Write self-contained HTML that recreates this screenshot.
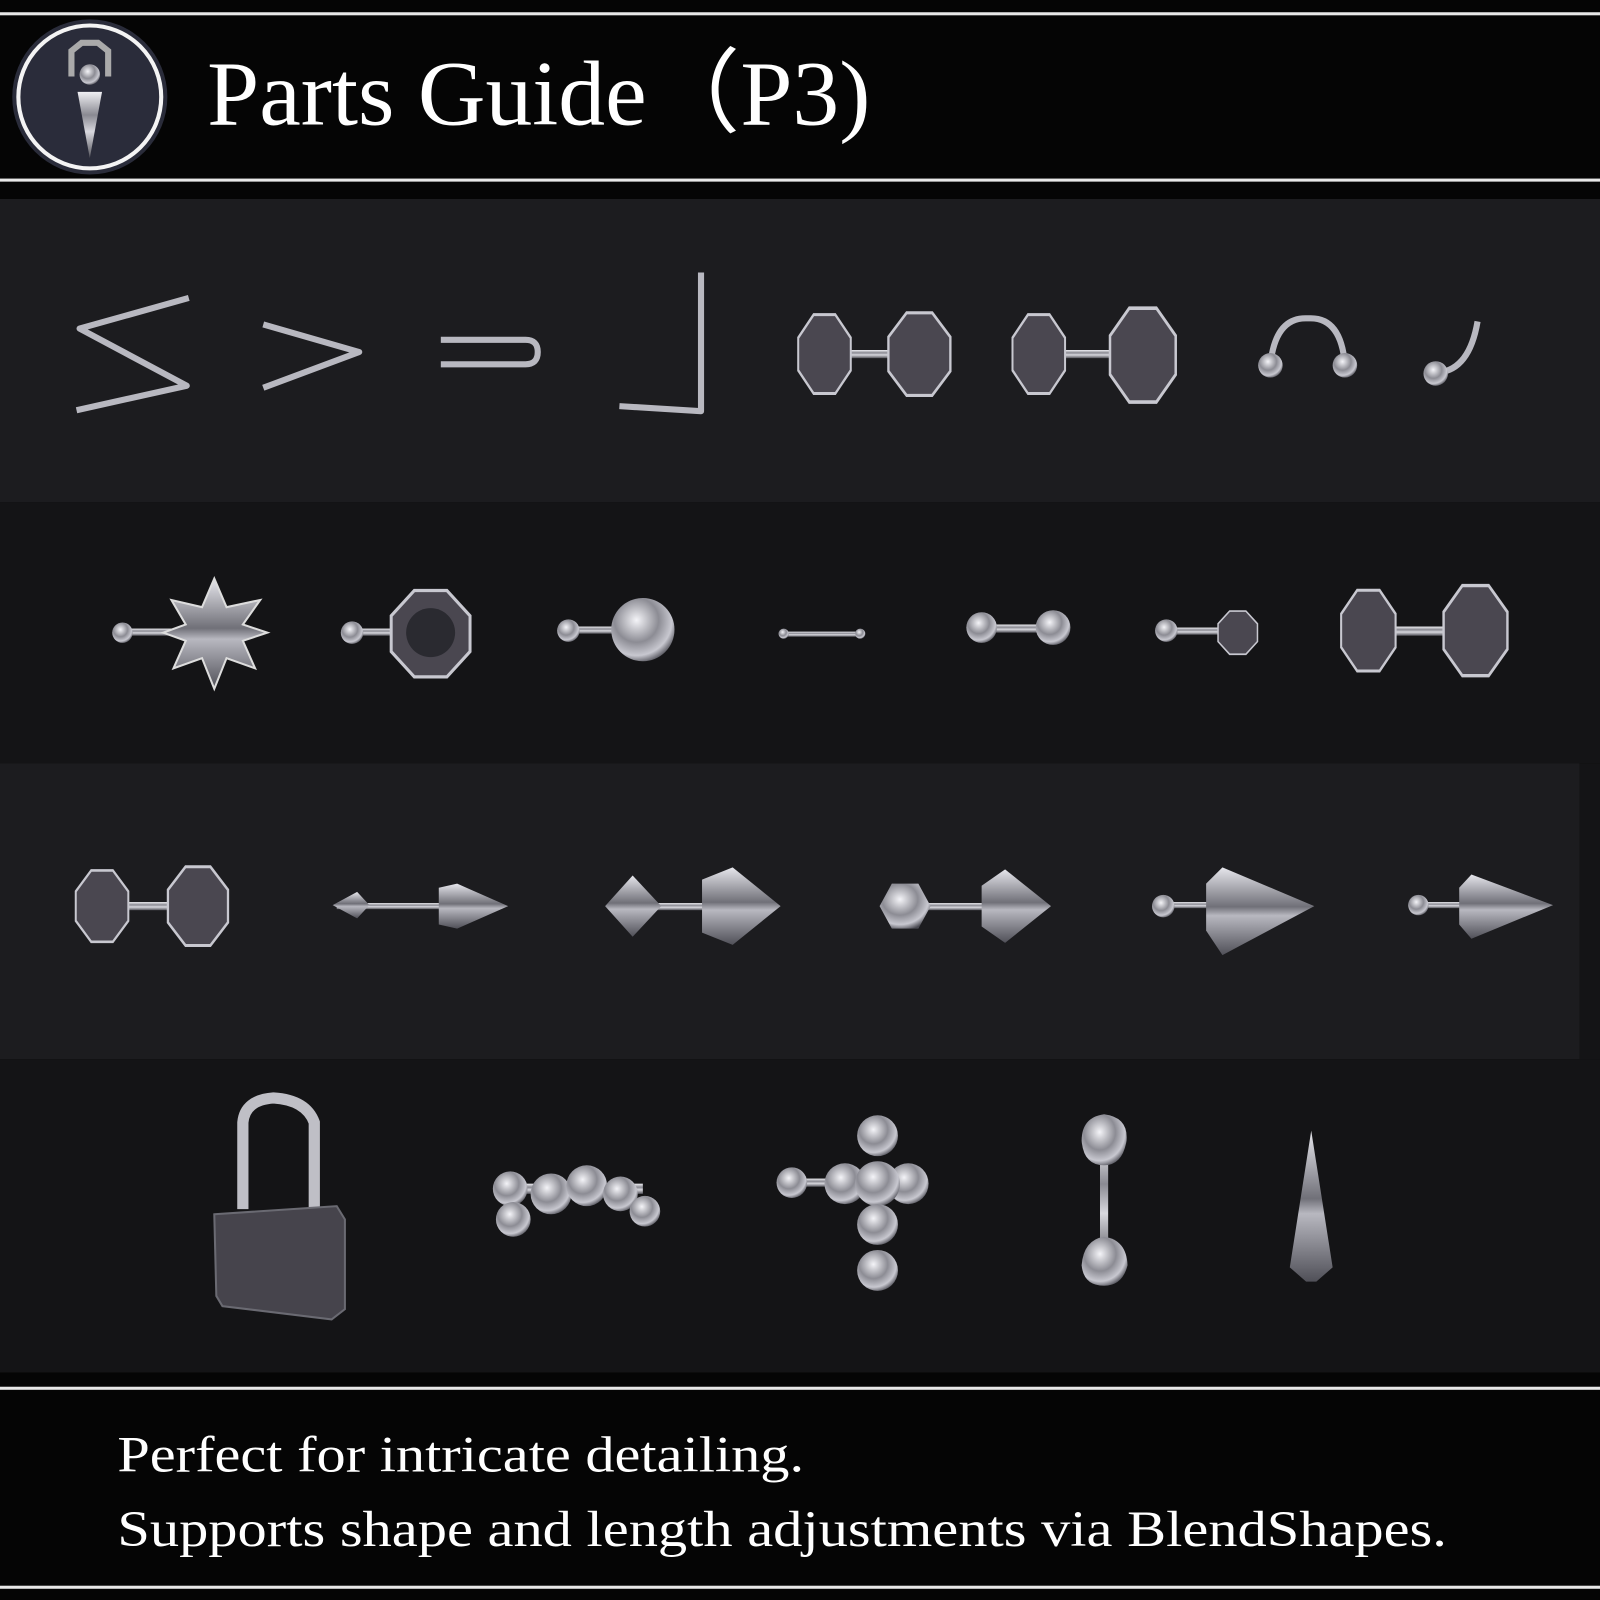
<!DOCTYPE html>
<html><head><meta charset="utf-8"><style>
html,body{margin:0;padding:0;background:#050505;}
svg{display:block;}
</style></head><body>
<svg width="1600" height="1600" viewBox="0 0 1568 1568" xmlns="http://www.w3.org/2000/svg">
<defs>
<linearGradient id="m" x1="0" y1="0" x2="0" y2="1">
<stop offset="0" stop-color="#f0f0f4"/><stop offset="0.35" stop-color="#8a8a92"/><stop offset="0.6" stop-color="#d8d8de"/><stop offset="1" stop-color="#55555c"/></linearGradient>
<radialGradient id="b" cx="0.4" cy="0.35" r="0.7">
<stop offset="0" stop-color="#f4f4f8"/><stop offset="0.5" stop-color="#8c8c94"/><stop offset="0.8" stop-color="#c8c8d0"/><stop offset="1" stop-color="#4a4a52"/></radialGradient>
<linearGradient id="c" x1="0" y1="0" x2="0" y2="1">
<stop offset="0" stop-color="#e6e6ec"/><stop offset="0.45" stop-color="#707078"/><stop offset="0.55" stop-color="#b8b8c0"/><stop offset="1" stop-color="#505058"/></linearGradient>
<symbol id="o" viewBox="-1 -1 2 2" preserveAspectRatio="none" overflow="visible"><polygon points="0.38,-0.92 0.92,-0.38 0.92,0.38 0.38,0.92 -0.38,0.92 -0.92,0.38 -0.92,-0.38 -0.38,-0.92" fill="#4a4750" stroke="#c8c8d0" stroke-width="0.07"/></symbol>
</defs>
<rect width="1568" height="1568" fill="#050505"/>
<rect x="0" y="12" width="1568" height="3" fill="#e8e8e8"/>
<rect x="0" y="175" width="1568" height="3" fill="#e8e8e8"/>
<circle cx="88" cy="95" r="76" fill="#2a2c3a"/>
<circle cx="88" cy="95" r="70" fill="none" stroke="#f4f4f4" stroke-width="4"/>
<path d="M70,75 V50 L80,42 H96 L106,50 V75" fill="none" stroke="#aaa" stroke-width="6"/>
<circle cx="88" cy="73" r="10" fill="url(#b)"/>
<polygon points="76,90 100,90 88,155" fill="url(#m)"/>
<text x="203" y="122" font-family="Liberation Serif, serif" font-size="90" fill="#fff" textLength="650" lengthAdjust="spacingAndGlyphs">Parts Guide（P3)</text>

<rect x="0" y="195" width="1568" height="297" fill="#1c1c1f"/>
<rect x="0" y="492" width="1568" height="256" fill="#141416"/>
<rect x="1548" y="748" width="20" height="290" fill="#141416"/>
<rect x="0" y="748" width="1548" height="290" fill="#1c1c1f"/>
<rect x="0" y="1038" width="1568" height="307" fill="#141416"/>

<g fill="none" stroke="#b8b8c0" stroke-width="6" stroke-linejoin="round">
<polyline points="185,292 78,322 183,378 75,402"/>
<polyline points="258,318 352,345 258,380"/>
<path d="M432,333 H515 Q527,333 527,345 Q527,357 515,357 H432"/>
<polyline points="687,267 687,403 607,398"/>
<path d="M1245,357 Q1250,310 1282,312 Q1314,310 1318,357"/>
<path d="M1410,365 Q1440,362 1448,315"/>
</g>
<rect x="820" y="343" width="70" height="8" fill="url(#m)"/>
<use href="#o" x="780" y="305" width="56" height="84"/>
<use href="#o" x="868" y="303" width="66" height="88"/>
<rect x="1030" y="343" width="80" height="8" fill="url(#m)"/>
<use href="#o" x="990" y="305" width="56" height="84"/>
<use href="#o" x="1085" y="298" width="70" height="100"/>
<circle cx="1245" cy="358" r="12" fill="url(#b)"/><circle cx="1318" cy="358" r="12" fill="url(#b)"/>
<circle cx="1407" cy="366" r="12" fill="url(#b)"/>

<rect x="115" y="616" width="90" height="7" fill="url(#m)"/>
<polygon points="210,567 222,595 255,588 238,612 262,620 238,628 250,655 222,645 210,675 198,645 170,655 182,628 160,620 182,612 168,588 198,595" fill="url(#c)" stroke="#ddd" stroke-width="2"/>
<circle cx="120" cy="620" r="10" fill="url(#b)"/>
<rect x="340" y="616" width="60" height="7" fill="url(#m)"/>
<circle cx="345" cy="620" r="11" fill="url(#b)"/>
<use href="#o" x="380" y="575" width="84" height="92"/>
<circle cx="422" cy="620" r="24" fill="#2a2a30"/>
<rect x="550" y="614" width="60" height="7" fill="url(#m)"/>
<circle cx="557" cy="618" r="11" fill="url(#b)"/>
<circle cx="630" cy="617" r="31" fill="url(#b)"/>
<rect x="765" y="619" width="80" height="5" fill="url(#m)"/>
<circle cx="768" cy="621" r="5" fill="url(#b)"/><circle cx="843" cy="621" r="5" fill="url(#b)"/>
<rect x="955" y="612" width="85" height="8" fill="url(#m)"/>
<circle cx="962" cy="615" r="15" fill="url(#b)"/><circle cx="1032" cy="615" r="17" fill="url(#b)"/>
<rect x="1135" y="615" width="75" height="7" fill="url(#m)"/>
<circle cx="1143" cy="618" r="11" fill="url(#b)"/>
<use href="#o" x="1192" y="597" width="42" height="46"/>
<rect x="1345" y="614" width="90" height="9" fill="url(#m)"/>
<use href="#o" x="1312" y="575" width="58" height="86"/>
<use href="#o" x="1412" y="570" width="68" height="96"/>

<rect x="110" y="884" width="80" height="8" fill="url(#m)"/>
<use href="#o" x="72" y="850" width="56" height="76"/>
<use href="#o" x="162" y="846" width="64" height="84"/>
<rect x="330" y="885" width="140" height="6" fill="url(#m)"/>
<polygon points="326,887 350,874 362,887 350,900" fill="url(#c)"/>
<polygon points="430,870 448,866 498,888 448,910 430,906" fill="url(#c)"/>
<rect x="630" y="885" width="70" height="7" fill="url(#m)"/>
<polygon points="593,888 620,858 648,888 620,918" fill="url(#c)"/>
<polygon points="688,862 718,850 765,888 718,926 688,914" fill="url(#c)"/>
<rect x="880" y="885" width="90" height="7" fill="url(#m)"/>
<polygon points="862,888 874,866 900,866 912,888 900,910 874,910" fill="url(#b)"/>
<polygon points="962,868 985,852 1030,888 985,924 962,908" fill="url(#c)"/>
<rect x="1135" y="884" width="60" height="6" fill="url(#m)"/>
<circle cx="1140" cy="888" r="11" fill="url(#b)"/>
<polygon points="1182,866 1198,850 1288,888 1198,936 1182,912" fill="url(#c)"/>
<rect x="1385" y="884" width="60" height="6" fill="url(#m)"/>
<circle cx="1390" cy="887" r="10" fill="url(#b)"/>
<polygon points="1430,870 1442,857 1522,887 1442,920 1430,906" fill="url(#c)"/>

<path d="M238,1185 V1100 Q240,1078 268,1076 Q300,1078 308,1100 V1185" fill="none" stroke="#bfbfc6" stroke-width="11"/>
<polygon points="210,1190 330,1182 338,1195 338,1283 325,1293 218,1280 212,1270" fill="#46444c" stroke="#6a6a72" stroke-width="2"/>
<rect x="500" y="1160" width="130" height="10" fill="url(#m)"/>
<circle cx="500" cy="1165" r="17" fill="url(#b)"/><circle cx="540" cy="1170" r="20" fill="url(#b)"/><circle cx="575" cy="1162" r="20" fill="url(#b)"/><circle cx="608" cy="1170" r="17" fill="url(#b)"/><circle cx="632" cy="1187" r="15" fill="url(#b)"/><circle cx="503" cy="1195" r="17" fill="url(#b)"/>
<rect x="775" y="1155" width="60" height="8" fill="url(#m)"/>
<circle cx="776" cy="1159" r="15" fill="url(#b)"/>
<circle cx="860" cy="1113" r="20" fill="url(#b)"/><circle cx="828" cy="1160" r="20" fill="url(#b)"/><circle cx="890" cy="1160" r="20" fill="url(#b)"/><circle cx="860" cy="1160" r="22" fill="url(#b)"/><circle cx="860" cy="1200" r="20" fill="url(#b)"/><circle cx="860" cy="1245" r="20" fill="url(#b)"/>
<rect x="1078" y="1120" width="8" height="115" fill="url(#m)"/>
<path d="M1082,1092 Q1106,1095 1104,1118 Q1100,1142 1082,1142 Q1062,1142 1060,1118 Q1060,1095 1082,1092Z" fill="url(#b)"/>
<path d="M1082,1212 Q1104,1215 1105,1240 Q1100,1260 1082,1260 Q1062,1260 1060,1240 Q1062,1215 1082,1212Z" fill="url(#b)"/>
<polygon points="1285,1108 1306,1242 1290,1256 1280,1256 1264,1242" fill="url(#c)"/>

<rect x="0" y="1359" width="1568" height="3" fill="#e8e8e8"/>
<rect x="0" y="1554" width="1568" height="3" fill="#e8e8e8"/>
<text x="115" y="1442" font-family="Liberation Serif, serif" font-size="50" fill="#fff" textLength="673" lengthAdjust="spacingAndGlyphs">Perfect for intricate detailing.</text>
<text x="115" y="1515" font-family="Liberation Serif, serif" font-size="50" fill="#fff" textLength="1303" lengthAdjust="spacingAndGlyphs">Supports shape and length adjustments via BlendShapes.</text>
</svg>
</body></html>
